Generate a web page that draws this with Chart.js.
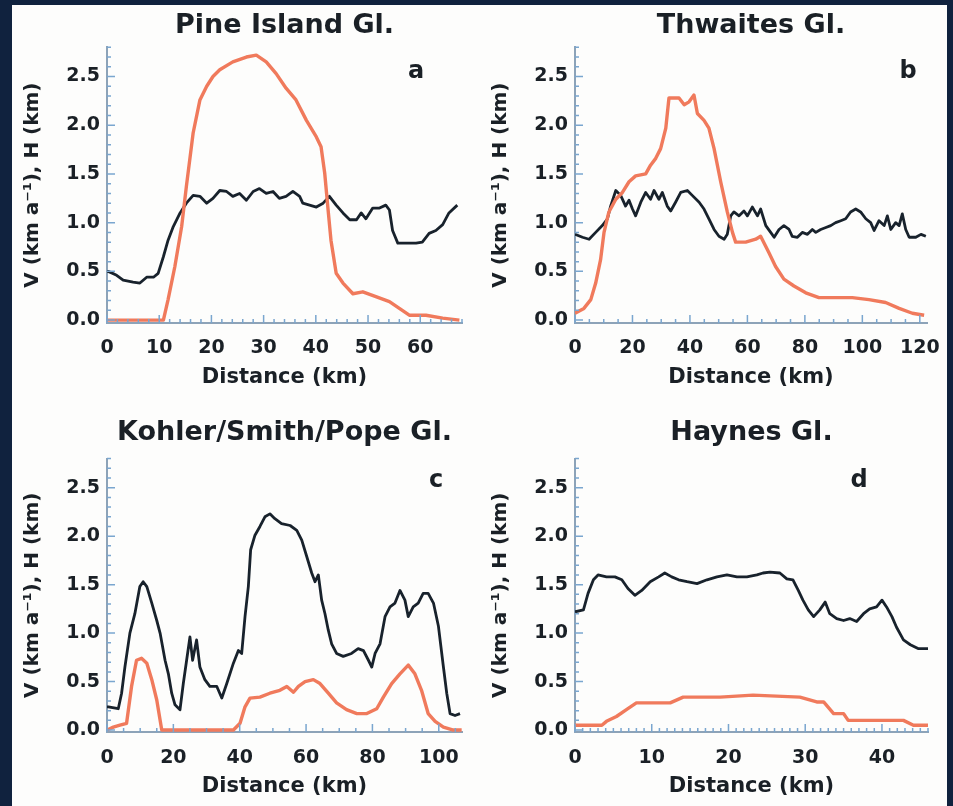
<!DOCTYPE html>
<html>
<head>
<meta charset="utf-8">
<script src="https://cdn.jsdelivr.net/npm/chart.js@4.4.1/dist/chart.umd.min.js"></script>
<style>
  html, body { margin: 0; padding: 0; width: 953px; height: 806px; overflow: hidden; background: #10223e; }
  #sheet { position: absolute; left: 12px; top: 5px; width: 935px; height: 801px; background: #fdfdfc; }
  canvas { position: absolute; }
</style>
</head>
<body>
<div id="sheet"></div>
<canvas id="pine" width="465" height="395" style="left:12px;top:5px"></canvas>
<canvas id="thwaites" width="473" height="395" style="left:480px;top:5px"></canvas>
<canvas id="kohler" width="465" height="406" style="left:12px;top:400px"></canvas>
<canvas id="haynes" width="473" height="406" style="left:480px;top:400px"></canvas>
<script>
// tick labels
const yTicks = [0, 0.5, 1.0, 1.5, 2.0, 2.5];
const piTicks = [0, 10, 20, 30, 40, 50, 60];
const thTicks = [0, 20, 40, 60, 80, 100, 120];
const ksTicks = [0, 20, 40, 60, 80, 100];
const haTicks = [0, 10, 20, 30, 40];

// Pine Island Gl. - velocity (black) and thickness (red)
const piDistV = [0, 0.25, 1.85, 3.1, 5.0, 6.3, 7.6, 8.9, 9.8, 10.8, 11.7, 12.7, 14.0, 15.2, 16.5, 17.8, 19.1, 20.3, 21.6, 22.9, 24.1, 25.4, 26.7, 28.0, 29.2, 30.5, 31.8, 33.0, 34.3, 35.6, 36.9, 37.5, 38.8, 40.1, 41.4, 42.6, 43.9, 45.2, 46.5, 47.8, 48.7, 49.6, 50.9, 52.2, 53.4, 54.1, 54.7, 55.7, 57.3, 59.2, 60.4, 61.7, 63.0, 64.3, 65.5, 67.1];
const piVel = [0.50, 0.50, 0.46, 0.41, 0.39, 0.38, 0.44, 0.44, 0.48, 0.65, 0.82, 0.96, 1.10, 1.20, 1.28, 1.27, 1.20, 1.25, 1.33, 1.32, 1.27, 1.30, 1.23, 1.32, 1.35, 1.30, 1.32, 1.25, 1.27, 1.32, 1.27, 1.20, 1.18, 1.16, 1.20, 1.27, 1.18, 1.10, 1.03, 1.03, 1.10, 1.04, 1.15, 1.15, 1.18, 1.13, 0.92, 0.79, 0.79, 0.79, 0.80, 0.89, 0.92, 0.98, 1.10, 1.18];
const piDistH = [0, 10.8, 11.7, 13.0, 14.3, 15.2, 16.5, 17.8, 19.1, 20.3, 21.6, 24.1, 26.7, 28.6, 30.5, 32.4, 34.3, 36.2, 38.2, 40.1, 41.0, 41.7, 42.3, 42.9, 43.9, 45.2, 47.1, 49.0, 51.5, 54.1, 56.0, 57.9, 61.1, 64.3, 67.5];
const piThick = [0, 0, 0.21, 0.55, 0.96, 1.37, 1.92, 2.26, 2.40, 2.50, 2.57, 2.65, 2.70, 2.72, 2.65, 2.53, 2.38, 2.26, 2.05, 1.88, 1.78, 1.51, 1.16, 0.82, 0.48, 0.38, 0.27, 0.29, 0.24, 0.19, 0.12, 0.05, 0.05, 0.02, 0.0];

// Thwaites Gl.
const thDistV = [0, 2.6, 4.9, 7.2, 9.5, 11.3, 12.4, 14.2, 15.9, 17.6, 18.8, 20.0, 21.1, 22.9, 24.6, 26.3, 27.5, 29.2, 30.4, 32.1, 33.3, 35.0, 36.8, 39.1, 40.8, 43.2, 44.9, 46.6, 48.4, 50.1, 51.9, 53.0, 54.2, 55.3, 57.1, 58.8, 60.0, 61.7, 63.5, 64.6, 66.4, 68.1, 69.3, 71.0, 72.7, 74.5, 75.6, 77.4, 79.1, 80.9, 82.6, 83.8, 85.5, 87.3, 89.0, 90.7, 92.5, 94.2, 95.9, 97.7, 99.4, 101.2, 102.9, 104.1, 105.8, 107.6, 108.7, 109.9, 111.6, 112.8, 113.9, 115.1, 116.3, 118.6, 120.4, 122.1];
const thVel = [0.88, 0.85, 0.83, 0.90, 0.97, 1.04, 1.17, 1.33, 1.28, 1.17, 1.23, 1.14, 1.07, 1.21, 1.31, 1.24, 1.33, 1.24, 1.31, 1.17, 1.12, 1.21, 1.31, 1.33, 1.28, 1.21, 1.14, 1.04, 0.93, 0.86, 0.83, 0.88, 1.07, 1.11, 1.07, 1.12, 1.07, 1.16, 1.07, 1.14, 0.97, 0.90, 0.85, 0.93, 0.97, 0.93, 0.86, 0.85, 0.90, 0.88, 0.93, 0.90, 0.93, 0.95, 0.97, 1.00, 1.02, 1.04, 1.11, 1.14, 1.11, 1.04, 1.00, 0.92, 1.02, 0.97, 1.07, 0.93, 1.00, 0.97, 1.09, 0.93, 0.85, 0.85, 0.88, 0.86];
const thDistH = [0, 3.1, 5.5, 7.2, 8.9, 10.1, 11.8, 14.2, 16.5, 18.8, 21.1, 24.6, 26.3, 28.1, 29.8, 31.6, 32.7, 36.2, 38.0, 39.7, 41.4, 42.6, 44.9, 46.6, 48.4, 50.7, 53.0, 54.8, 55.9, 59.4, 62.9, 64.6, 67.5, 69.8, 72.7, 76.2, 80.3, 84.9, 90.7, 96.5, 102.3, 108.1, 112.8, 117.4, 121.5];
const thThick = [0.07, 0.12, 0.21, 0.38, 0.62, 0.90, 1.11, 1.24, 1.31, 1.42, 1.48, 1.50, 1.59, 1.66, 1.76, 1.97, 2.28, 2.28, 2.21, 2.24, 2.31, 2.12, 2.05, 1.97, 1.76, 1.42, 1.11, 0.90, 0.80, 0.80, 0.83, 0.86, 0.69, 0.55, 0.42, 0.35, 0.28, 0.23, 0.23, 0.23, 0.21, 0.18, 0.12, 0.07, 0.05];

// Kohler/Smith/Pope Gl.
const ksDistV = [0, 0.4, 3.4, 4.4, 5.4, 6.9, 8.4, 9.9, 10.9, 12.0, 13.5, 15.0, 16.0, 17.5, 18.5, 19.5, 20.5, 22.0, 23.0, 24.0, 25.0, 25.8, 27.0, 28.0, 29.5, 31.0, 33.1, 34.6, 36.1, 38.1, 39.6, 40.6, 41.6, 42.6, 43.3, 44.6, 46.1, 47.6, 49.1, 50.6, 52.6, 55.2, 57.2, 58.7, 60.2, 61.7, 62.7, 63.7, 64.7, 65.7, 66.7, 67.7, 69.2, 71.2, 73.7, 75.7, 77.3, 78.8, 79.8, 80.8, 82.3, 83.8, 85.3, 86.8, 88.3, 89.8, 90.8, 92.3, 93.8, 95.3, 96.8, 98.4, 99.9, 101.4, 102.4, 103.4, 104.9, 106.4];
const ksVel = [0.24, 0.24, 0.22, 0.38, 0.65, 1.00, 1.20, 1.48, 1.53, 1.48, 1.31, 1.13, 1.00, 0.72, 0.58, 0.38, 0.26, 0.21, 0.48, 0.72, 0.96, 0.72, 0.93, 0.65, 0.52, 0.45, 0.45, 0.33, 0.48, 0.69, 0.82, 0.79, 1.17, 1.48, 1.86, 2.01, 2.10, 2.20, 2.23, 2.18, 2.13, 2.11, 2.06, 1.96, 1.79, 1.62, 1.53, 1.60, 1.34, 1.20, 1.03, 0.89, 0.79, 0.76, 0.79, 0.84, 0.82, 0.72, 0.65, 0.79, 0.89, 1.17, 1.27, 1.31, 1.44, 1.34, 1.17, 1.27, 1.31, 1.41, 1.41, 1.31, 1.07, 0.65, 0.38, 0.17, 0.15, 0.17];
const ksDistH = [0, 1.9, 3.9, 5.9, 7.4, 8.9, 10.4, 12.0, 13.5, 15.0, 16.5, 38.1, 40.1, 41.6, 43.1, 46.1, 49.1, 52.1, 54.2, 56.2, 57.7, 59.7, 62.2, 64.2, 66.7, 69.2, 72.2, 75.3, 78.3, 81.3, 83.3, 85.8, 88.3, 90.8, 92.8, 94.8, 96.8, 98.9, 101.4, 104.4, 106.9];
const ksThick = [0, 0.03, 0.05, 0.07, 0.45, 0.72, 0.74, 0.69, 0.52, 0.31, 0, 0, 0.07, 0.24, 0.33, 0.34, 0.38, 0.41, 0.45, 0.39, 0.45, 0.50, 0.52, 0.48, 0.38, 0.28, 0.21, 0.17, 0.17, 0.22, 0.34, 0.48, 0.58, 0.67, 0.58, 0.41, 0.17, 0.09, 0.03, 0, 0];

// Haynes Gl.
const haDistV = [0, 1.1, 1.7, 2.4, 3.0, 4.1, 5.2, 6.1, 6.9, 7.8, 8.7, 9.8, 10.9, 11.7, 12.6, 13.5, 14.6, 15.9, 17.2, 18.5, 19.8, 21.1, 22.4, 23.7, 24.5, 25.4, 26.7, 27.6, 28.4, 29.1, 29.7, 30.4, 31.1, 31.9, 32.6, 33.2, 34.1, 35.0, 35.8, 36.7, 37.6, 38.4, 39.3, 40.0, 40.6, 41.3, 41.9, 42.8, 43.7, 44.7, 46.0];
const haVel = [1.22, 1.24, 1.41, 1.55, 1.60, 1.58, 1.58, 1.55, 1.46, 1.39, 1.44, 1.53, 1.58, 1.62, 1.58, 1.55, 1.53, 1.51, 1.55, 1.58, 1.60, 1.58, 1.58, 1.60, 1.62, 1.63, 1.62, 1.56, 1.55, 1.44, 1.34, 1.24, 1.17, 1.24, 1.32, 1.20, 1.15, 1.13, 1.15, 1.12, 1.20, 1.25, 1.27, 1.34, 1.27, 1.17, 1.06, 0.93, 0.88, 0.84, 0.84];
const haDistH = [0, 3.5, 4.1, 5.4, 6.7, 8.0, 12.4, 14.1, 18.9, 23.2, 29.3, 31.5, 32.4, 33.7, 35.0, 35.6, 42.8, 44.1, 46.0];
const haThick = [0.05, 0.05, 0.09, 0.14, 0.21, 0.28, 0.28, 0.34, 0.34, 0.36, 0.34, 0.29, 0.29, 0.17, 0.17, 0.10, 0.10, 0.05, 0.05];

const FONT = '"DejaVu Sans", sans-serif';
const INK = '#1a2026';
const BLACK = '#18222c';
const RED = '#f07a5c';
const AXIS = '#8da3b8';
const TICK = '#7aa6cf';

function pairs(xs, ys) {
  return xs.map((x, i) => ({ x: x, y: ys[i] }));
}

// short ticks pointing into the plot, major at labels, minor in between
const innerTicks = {
  id: 'innerTicks',
  afterDraw(chart, args, opts) {
    const { ctx, chartArea: a, scales: { x, y } } = chart;
    ctx.save();
    ctx.strokeStyle = TICK;
    ctx.lineWidth = 1.5;
    ctx.beginPath();
    const isMajor = (list, v) => list.some(t => Math.abs(t - v) < 1e-6);
    const y0 = Math.ceil(y.min / opts.yMinor - 1e-9);
    for (let i = y0; i * opts.yMinor <= y.max + 1e-9; i++) {
      const v = i * opts.yMinor;
      const py = y.getPixelForValue(v);
      const len = isMajor(yTicks, v) ? 8 : 4;
      ctx.moveTo(a.left, py);
      ctx.lineTo(a.left + len, py);
    }
    for (let i = 0; i * opts.xMinor <= x.max + 1e-9; i++) {
      const v = i * opts.xMinor;
      const px = x.getPixelForValue(v);
      const len = isMajor(opts.xTicks, v) ? 8 : 4;
      ctx.moveTo(px, a.bottom);
      ctx.lineTo(px, a.bottom - len);
    }
    ctx.stroke();
    ctx.restore();
  }
};

const panelLetter = {
  id: 'panelLetter',
  afterDraw(chart, args, opts) {
    const { ctx, chartArea: a } = chart;
    ctx.save();
    ctx.font = 'bold 24px ' + FONT;
    ctx.fillStyle = INK;
    ctx.textAlign = 'center';
    ctx.textBaseline = 'alphabetic';
    ctx.fillText(opts.text, a.right - opts.dx, a.top + opts.dy);
    ctx.restore();
  }
};

function makePanel(p) {
  return new Chart(document.getElementById(p.id), {
    type: 'line',
    data: {
      datasets: [
        { data: pairs(p.distH, p.thick), borderColor: RED, borderWidth: 3.4, pointRadius: 0, tension: 0, borderJoinStyle: 'round' },
        { data: pairs(p.distV, p.vel), borderColor: BLACK, borderWidth: 2.8, pointRadius: 0, tension: 0, borderJoinStyle: 'round' }
      ]
    },
    options: {
      responsive: false,
      animation: false,
      events: [],
      layout: { padding: { left: 0, top: 0, bottom: 0, right: p.padRight } },
      plugins: {
        legend: { display: false },
        tooltip: { enabled: false },
        title: {
          display: true, text: p.title, fullSize: false, color: INK,
          font: { family: FONT, size: 27, weight: 'bold' },
          padding: { top: p.titleTop, bottom: p.titleBottom }
        },
        innerTicks: { xMinor: p.xMinor, yMinor: 0.1, xTicks: p.xTicks },
        panelLetter: { text: p.letter, dx: p.letterDx, dy: p.letterDy }
      },
      scales: {
        x: {
          type: 'linear', bounds: 'data', min: 0, max: p.xMax,
          grid: { display: false, drawTicks: false },
          border: { display: true, color: AXIS, width: 2 },
          afterBuildTicks: s => { s.ticks = p.xTicks.map(v => ({ value: v })); },
          afterFit: s => { s.height = p.xAxisH; s.paddingLeft = 0; s.paddingRight = 0; },
          ticks: {
            padding: p.xTickPad, color: INK, maxRotation: 0, autoSkip: false,
            font: { family: FONT, size: 19, weight: 'bold' },
            callback: v => String(v)
          },
          title: {
            display: true, text: 'Distance (km)', color: INK,
            font: { family: FONT, size: 21, weight: 'bold' },
            padding: { top: 0, bottom: p.xTitleBottom }
          }
        },
        y: {
          type: 'linear', bounds: 'data', min: p.yMin, max: 2.8,
          grid: { display: false, drawTicks: false },
          border: { display: true, color: AXIS, width: 2 },
          afterBuildTicks: s => { s.ticks = yTicks.map(v => ({ value: v })); },
          afterFit: s => { s.width = 95; s.paddingTop = 0; s.paddingBottom = 0; },
          ticks: {
            padding: 7, color: INK, autoSkip: false,
            font: { family: FONT, size: 19, weight: 'bold' },
            callback: v => v.toFixed(1)
          },
          title: {
            display: true, text: 'V (km a\u207B\u00B9), H (km)', color: INK,
            font: { family: FONT, size: 20, weight: 'bold' },
            padding: { top: 9, bottom: 0 }
          }
        }
      }
    },
    plugins: [innerTicks, panelLetter]
  });
}

makePanel({ id: 'pine', title: 'Pine Island Gl.', letter: 'a',
  distV: piDistV, vel: piVel, distH: piDistH, thick: piThick,
  xTicks: piTicks, xMax: 68, xMinor: 2, yMin: -0.03,
  padRight: 15, titleTop: 4.3, titleBottom: 5.6, xAxisH: 77, xTickPad: 13.5, xTitleBottom: 9.4,
  letterDx: 46, letterDy: 30.7 });

makePanel({ id: 'thwaites', title: 'Thwaites Gl.', letter: 'b',
  distV: thDistV, vel: thVel, distH: thDistH, thick: thThick,
  xTicks: thTicks, xMax: 122.5, xMinor: 5, yMin: -0.03,
  padRight: 26, titleTop: 4.3, titleBottom: 5.6, xAxisH: 77, xTickPad: 13.5, xTitleBottom: 9.4,
  letterDx: 19, letterDy: 30.7 });

makePanel({ id: 'kohler', title: 'Kohler/Smith/Pope Gl.', letter: 'c',
  distV: ksDistV, vel: ksVel, distH: ksDistH, thick: ksThick,
  xTicks: ksTicks, xMax: 107, xMinor: 5, yMin: -0.02,
  padRight: 15, titleTop: 17.1, titleBottom: 9.1, xAxisH: 74, xTickPad: 14.2, xTitleBottom: 6.7,
  letterDx: 26, letterDy: 28.6 });

makePanel({ id: 'haynes', title: 'Haynes Gl.', letter: 'd',
  distV: haDistV, vel: haVel, distH: haDistH, thick: haThick,
  xTicks: haTicks, xMax: 46, xMinor: 1, yMin: -0.02,
  padRight: 25, titleTop: 17.1, titleBottom: 9.1, xAxisH: 74, xTickPad: 14.2, xTitleBottom: 6.7,
  letterDx: 69, letterDy: 28.6 });
</script>
</body>
</html>
